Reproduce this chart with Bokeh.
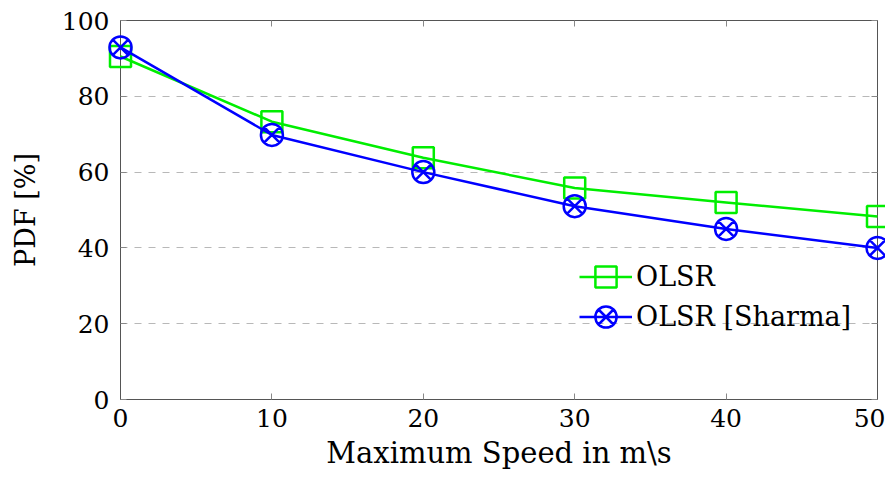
from bokeh.plotting import figure
from bokeh.models import ColumnDataSource, Range1d, LinearAxis, FixedTicker, Legend, LegendItem
from bokeh.embed import file_html
from bokeh.resources import INLINE

speed = [0, 10, 20, 30, 40, 50]
olsr = [90.5, 73.3, 63.8, 55.8, 52.0, 48.3]
olsr_sharma = [92.9, 69.8, 60.0, 51.0, 45.0, 40.0]
x_ticks = [0, 10, 20, 30, 40, 50]
y_ticks = [0, 20, 40, 60, 80, 100]

FONT = "DejaVu Serif"

p = figure(width=885, height=473, output_backend="svg", toolbar_location=None,
           x_range=Range1d(0, 50), y_range=Range1d(0, 100),
           min_border_left=120, min_border_right=8, min_border_top=20, min_border_bottom=74)
p.outline_line_color = "#555555"
p.outline_line_width = 1
p.background_fill_color = "white"
p.border_fill_color = "white"

p.xgrid.visible = False
p.ygrid.ticker = FixedTicker(ticks=[20, 40, 60, 80])
p.ygrid.grid_line_color = "#b8b8b8"
p.ygrid.grid_line_dash = "7 7"
p.ygrid.grid_line_width = 1

for ax in (p.xaxis[0], p.yaxis[0]):
    ax.major_label_text_font = FONT
    ax.major_label_text_font_size = "25px"
    ax.major_label_text_color = "black"
    ax.axis_label_text_font = FONT
    ax.axis_label_text_font_size = "27px"
    ax.axis_label_text_font_style = "normal"
    ax.axis_label_text_color = "black"
    ax.axis_line_color = "#555555"
    ax.major_tick_line_color = "#888888"
    ax.major_tick_in = 6
    ax.major_tick_out = 0
    ax.minor_tick_line_color = None

p.xaxis[0].ticker = FixedTicker(ticks=x_ticks)
p.yaxis[0].ticker = FixedTicker(ticks=y_ticks)
p.xaxis[0].axis_label = "Maximum Speed in m\\s"
p.xaxis[0].axis_label_text_font_size = "29px"
p.yaxis[0].axis_label = "PDF [%]"
p.xaxis[0].major_label_standoff = 9
p.yaxis[0].major_label_standoff = 11
p.xaxis[0].axis_label_standoff = 6
p.yaxis[0].axis_label_standoff = 18

right = LinearAxis(ticker=FixedTicker(ticks=y_ticks),
                   major_label_overrides={t: "" for t in y_ticks},
                   axis_line_color="#555555", major_tick_line_color="#888888",
                   major_tick_in=6, major_tick_out=0, minor_tick_line_color=None,
                   major_label_standoff=0)
p.add_layout(right, "right")
top = LinearAxis(ticker=FixedTicker(ticks=x_ticks),
                 major_label_overrides={t: "" for t in x_ticks},
                 axis_line_color="#555555", major_tick_line_color="#888888",
                 major_tick_in=6, major_tick_out=0, minor_tick_line_color=None,
                 major_label_standoff=0)
p.add_layout(top, "above")

src = ColumnDataSource(dict(x=speed, a=olsr, b=olsr_sharma))

GREEN = "#00ee00"
BLUE = "#0000ff"
l1 = p.line("x", "a", source=src, line_color=GREEN, line_width=2.5, level="overlay")
m1 = p.scatter("x", "a", source=src, marker="square", size=21, fill_color=None,
               line_color=GREEN, line_width=2.5, level="overlay")
l2 = p.line("x", "b", source=src, line_color=BLUE, line_width=2.5, level="overlay")
m2 = p.scatter("x", "b", source=src, marker="circle_x", size=22, fill_color=None,
               line_color=BLUE, line_width=2.5, level="overlay")


def make_legend(label, renderers, loc):
    lg = Legend(items=[LegendItem(label=label, renderers=renderers)], location=loc)
    lg.border_line_color = None
    lg.background_fill_alpha = 0
    lg.label_text_font = FONT
    lg.label_text_font_size = "27px"
    lg.label_text_color = "black"
    lg.glyph_width = 53
    lg.glyph_height = 53
    lg.label_standoff = 4
    lg.padding = 0
    lg.margin = 0
    p.add_layout(lg, "center")


make_legend("OLSR", [l1, m1], (459, 96))
make_legend("OLSR [Sharma]", [l2, m2], (459, 56))

open("out.html", "w").write(file_html(p, INLINE))
